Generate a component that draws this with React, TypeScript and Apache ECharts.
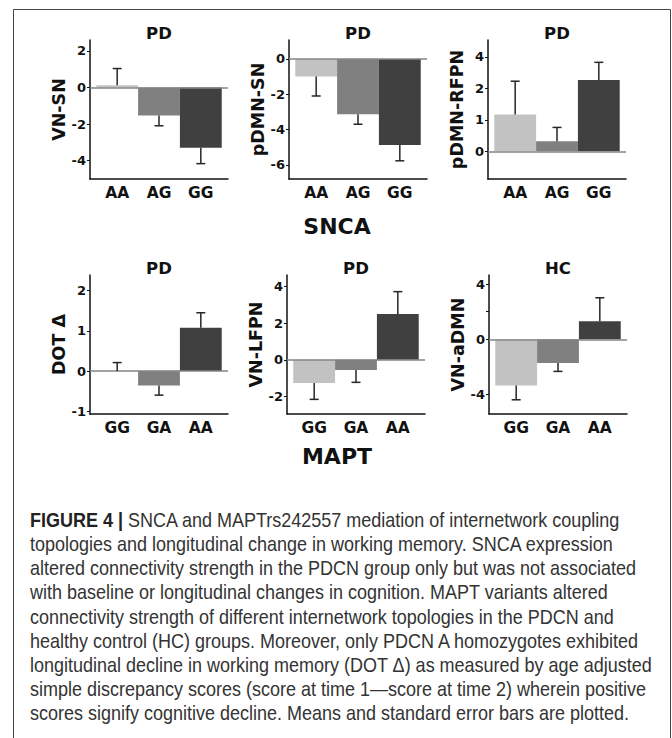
import React, { useEffect, useRef } from "react";
import * as echarts from "echarts";

// ---------- data ----------
const snpSNCA = ["AA", "AG", "GG"];
const snpMAPT = ["GG", "GA", "AA"];

const vnSnMeans = [0.13, -1.53, -3.29];
const vnSnSE = [0.91, 0.56, 0.87];
const pdmnSnMeans = [-1.0, -3.14, -4.87];
const pdmnSnSE = [1.1, 0.56, 0.9];
const pdmnRfpnMeans = [1.17, 0.32, 2.27];
const pdmnRfpnSE = [1.06, 0.44, 0.56];
const dotMeans = [0.0, -0.36, 1.08];
const dotSE = [0.21, 0.24, 0.37];
const vnLfpnMeans = [-1.27, -0.56, 2.51];
const vnLfpnSE = [0.89, 0.67, 1.22];
const vnAdmnMeans = [-3.35, -1.73, 1.3];
const vnAdmnSE = [1.04, 0.6, 1.71];

const vnSnTicks = [-4, -2, 0, 2];
const pdmnSnTicks = [-6, -4, -2, 0];
const pdmnRfpnTicks = [0, 1, 2, 3];
const pdmnRfpnTickLabels = ["0", "1", "2", "4"];
const dotTicks = [-1, 0, 1, 2];
const vnLfpnTicks = [-2, 0, 2, 4];
const vnAdmnTicks = [-4, 0, 4];
const vnAdmnTickMarks = [-4, 0, 2, 4];

const captionLines = [
  "topologies and longitudinal change in working memory. SNCA expression",
  "altered connectivity strength in the PDCN group only but was not associated",
  "with baseline or longitudinal changes in cognition. MAPT variants altered",
  "connectivity strength of different internetwork topologies in the PDCN and",
  "healthy control (HC) groups. Moreover, only PDCN A homozygotes exhibited",
  "longitudinal decline in working memory (DOT \u0394) as measured by age adjusted",
  "simple discrepancy scores (score at time 1\u2014score at time 2) wherein positive",
  "scores signify cognitive decline. Means and standard error bars are plotted.",
];

// ---------- layout / style ----------
const barColors = ["#c2c2c2", "#808080", "#404040"];
const BOLD = "'DejaVu Sans', sans-serif";
const CAPTION_FONT = "'Liberation Sans', sans-serif";
const CAPTION_SIZE = 20;
const CAPTION_SCALE = 0.9;
const PAD = 0.15;
const GRID_W = 138;
const GRID_H = 139;

type Panel = {
  title: string;
  yName: string;
  cats: string[];
  means: number[];
  se: number[];
  yMin: number;
  yMax: number;
  ticks: number[];
  tickMarks?: number[];
  tickLabels?: string[];
  left: number;
  top: number;
};

const panels: Panel[] = [
  { title: "PD", yName: "VN-SN", cats: snpSNCA, means: vnSnMeans, se: vnSnSE, yMin: -5, yMax: 2.6, ticks: vnSnTicks, left: 90, top: 40 },
  { title: "PD", yName: "pDMN-SN", cats: snpSNCA, means: pdmnSnMeans, se: pdmnSnSE, yMin: -6.8, yMax: 1.07, ticks: pdmnSnTicks, left: 289, top: 40 },
  { title: "PD", yName: "pDMN-RFPN", cats: snpSNCA, means: pdmnRfpnMeans, se: pdmnRfpnSE, yMin: -0.88, yMax: 3.54, ticks: pdmnRfpnTicks, tickLabels: pdmnRfpnTickLabels, left: 488, top: 40 },
  { title: "PD", yName: "DOT \u0394", cats: snpMAPT, means: dotMeans, se: dotSE, yMin: -1.07, yMax: 2.39, ticks: dotTicks, left: 90, top: 275 },
  { title: "PD", yName: "VN-LFPN", cats: snpMAPT, means: vnLfpnMeans, se: vnLfpnSE, yMin: -2.96, yMax: 4.64, ticks: vnLfpnTicks, left: 287, top: 275 },
  { title: "HC", yName: "VN-aDMN", cats: snpMAPT, means: vnAdmnMeans, se: vnAdmnSE, yMin: -5.42, yMax: 4.66, ticks: vnAdmnTicks, tickMarks: vnAdmnTickMarks, left: 489, top: 275 },
];

function buildOption() {
  const grid: any[] = [];
  const xAxis: any[] = [];
  const yAxis: any[] = [];
  const series: any[] = [];
  const graphic: any[] = [];

  panels.forEach((p, k) => {
    grid.push({ left: p.left, top: p.top, width: GRID_W, height: GRID_H, outerBoundsMode: "none" });
    const cats = p.cats;
    xAxis.push({
      gridIndex: k,
      type: "value",
      min: -PAD,
      max: cats.length + PAD,
      axisLine: { show: true, onZero: false, lineStyle: { color: "#111", width: 1.5 } },
      axisTick: { show: false },
      splitLine: { show: false },
      axisLabel: {
        customValues: cats.map((_, i) => i + 0.5),
        formatter: (v: number) => cats[Math.floor(v)] ?? "",
        margin: 6,
        fontFamily: BOLD,
        fontWeight: "bold",
        fontSize: 15.5,
        color: "#111",
      },
    });
    const labels = p.tickLabels;
    const ticks = p.ticks;
    yAxis.push({
      gridIndex: k,
      type: "value",
      min: p.yMin,
      max: p.yMax,
      name: p.yName,
      nameLocation: "middle",
      nameRotate: 90,
      nameGap: 22,
      nameTextStyle: { fontFamily: BOLD, fontWeight: "bold", fontSize: 17.5, color: "#111" },
      axisLine: { show: true, onZero: false, lineStyle: { color: "#111", width: 1.5 } },
      axisTick: { show: true, length: 3, customValues: p.tickMarks ?? ticks, lineStyle: { color: "#111" } },
      splitLine: { show: false },
      axisLabel: {
        customValues: ticks,
        formatter: (v: number) => (labels ? labels[ticks.indexOf(v)] : String(v)),
        margin: 4,
        fontFamily: BOLD,
        fontWeight: "bold",
        fontSize: 13,
        color: "#111",
      },
    });
    series.push({
      type: "bar",
      xAxisIndex: k,
      yAxisIndex: k,
      barCategoryGap: "0%",
      data: p.means.map((m, i) => ({ value: [i + 0.5, m], itemStyle: { color: barColors[i] } })),
      markLine: {
        silent: true,
        symbol: ["none", "none"],
        label: { show: false },
        lineStyle: { color: "#858585", width: 1.5, type: "solid" },
        data: [{ yAxis: 0 }],
      },
    });
    series.push({
      type: "custom",
      xAxisIndex: k,
      yAxisIndex: k,
      z: 5,
      encode: { x: 0, y: 1 },
      data: p.means.map((m, i) => [i + 0.5, m, p.se[i]]),
      renderItem: (params: any, api: any) => {
        const x = api.value(0);
        const m = api.value(1);
        const s = api.value(2);
        const end = m >= 0 ? m + s : m - s;
        const a = api.coord([x, m]);
        const b = api.coord([x, end]);
        const st = { stroke: "#262626", lineWidth: 1.5 };
        return {
          type: "group",
          children: [
            { type: "line", shape: { x1: a[0], y1: a[1], x2: b[0], y2: b[1] }, style: st },
            { type: "line", shape: { x1: b[0] - 4.5, y1: b[1], x2: b[0] + 4.5, y2: b[1] }, style: st },
          ],
        };
      },
    });
    graphic.push({
      type: "text",
      x: p.left + GRID_W / 2,
      y: p.top - 7,
      style: { text: p.title, align: "center", verticalAlign: "middle", font: `bold 16.5px ${BOLD}`, fill: "#111" },
    });
  });

  graphic.push({
    type: "text",
    x: 337,
    y: 226,
    style: { text: "SNCA", align: "center", verticalAlign: "middle", font: `bold 22px ${BOLD}`, fill: "#111" },
  });
  graphic.push({
    type: "text",
    x: 337,
    y: 456,
    style: { text: "MAPT", align: "center", verticalAlign: "middle", font: `bold 22px ${BOLD}`, fill: "#111" },
  });

  // frame
  graphic.push({
    type: "rect",
    shape: { x: 13.5, y: 9.5, width: 657, height: 760 },
    style: { fill: "none", stroke: "#444", lineWidth: 1 },
  });

  // caption
  graphic.push({
    type: "text",
    x: 30,
    y: 520,
    scaleX: CAPTION_SCALE,
    style: {
      text: "{b|FIGURE 4 |} SNCA and MAPTrs242557 mediation of internetwork coupling",
      verticalAlign: "middle",
      font: `${CAPTION_SIZE}px ${CAPTION_FONT}`,
      fill: "#333",
      rich: { b: { font: `bold ${CAPTION_SIZE}px ${CAPTION_FONT}`, fill: "#222" } },
    },
  });
  captionLines.forEach((line, i) => {
    graphic.push({
      type: "text",
      x: 30,
      y: 520 + (i + 1) * 24.2,
      scaleX: CAPTION_SCALE,
      style: { text: line, verticalAlign: "middle", font: `${CAPTION_SIZE}px ${CAPTION_FONT}`, fill: "#333" },
    });
  });

  return { animation: false, backgroundColor: "#fff", grid, xAxis, yAxis, series, graphic };
}

export default function App() {
  const ref = useRef<HTMLDivElement>(null);
  useEffect(() => {
    if (!ref.current) return;
    const chart = echarts.init(ref.current, undefined, { renderer: "svg" });
    chart.setOption(buildOption() as any);
    return () => chart.dispose();
  }, []);
  return <div ref={ref} style={{ position: "absolute", left: 0, top: 0, width: 672, height: 738 }} />;
}
